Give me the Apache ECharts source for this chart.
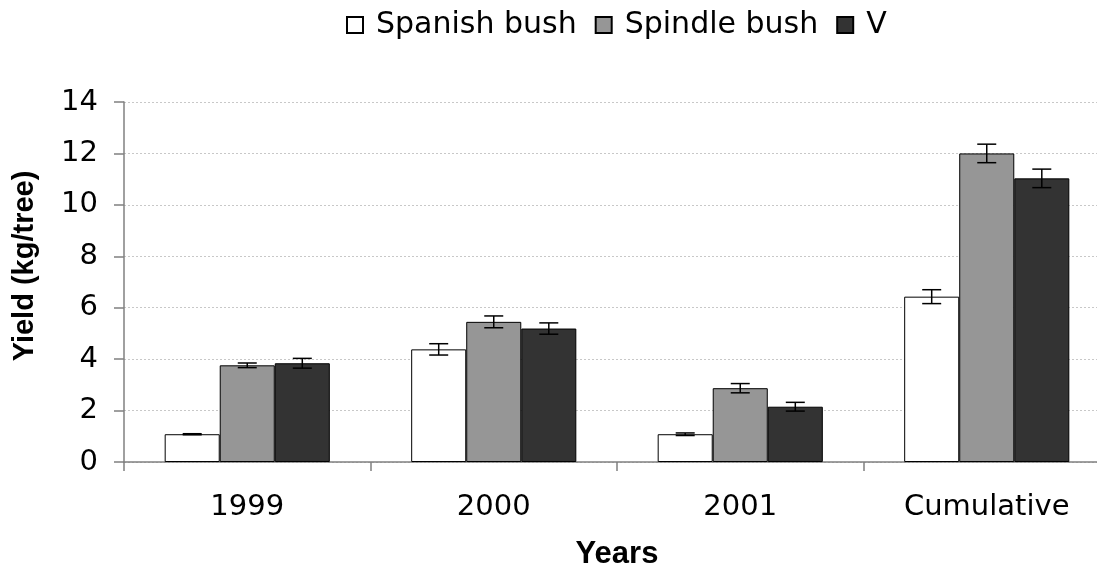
<!DOCTYPE html>
<html>
<head>
<meta charset="utf-8">
<script src="https://cdn.jsdelivr.net/npm/echarts@6/dist/echarts.min.js"></script>
<style>html,body{margin:0;padding:0;background:#fff}#c{width:1097px;height:565px}</style>
</head>
<body>
<div id="c"></div>
<script>
const categories = ['1999', '2000', '2001', 'Cumulative'];
const seriesNames = ['Spanish bush', 'Spindle bush', 'V'];
const spanish = [1.08, 4.38, 1.08, 6.43];
const spindle = [3.76, 5.45, 2.87, 12.0];
const vSystem = [3.84, 5.19, 2.15, 11.03];
const spanishErr = [0.02, 0.22, 0.05, 0.27];
const spindleErr = [0.09, 0.23, 0.18, 0.36];
const vErr = [0.19, 0.22, 0.17, 0.36];
const yTicks = [0, 2, 4, 6, 8, 10, 12, 14];

const colors = ['#ffffff', '#969696', '#333333'];
const values = [spanish, spindle, vSystem];
const errs = [spanishErr, spindleErr, vErr];
const catGap = 0.33;
const FONT = 'DejaVu Sans, sans-serif';
const BFONT = 'Liberation Sans, Arial, sans-serif';

const chart = echarts.init(document.getElementById('c'));

const barSeries = seriesNames.map((n, i) => ({
  name: n,
  type: 'bar',
  data: values[i],
  barGap: '0%',
  barCategoryGap: (catGap * 100) + '%',
  itemStyle: { color: colors[i], borderColor: '#000', borderWidth: 1 },
  emphasis: { disabled: true }
}));

const errSeries = seriesNames.map((n, i) => ({
  type: 'custom',
  name: n + ' err',
  z: 10,
  data: values[i].map((v, k) => [k, v - errs[i][k], v + errs[i][k]]),
  renderItem: function (params, api) {
    const idx = api.value(0);
    const band = api.size([1, 0])[0];
    const bw = band * (1 - catGap) / 3;
    const center = api.coord([idx, 0])[0] + (i - 1) * bw;
    const lo = api.coord([idx, api.value(1)])[1];
    const hi = api.coord([idx, api.value(2)])[1];
    const cap = 9.5;
    const st = { stroke: '#000', lineWidth: 1.5 };
    return {
      type: 'group',
      children: [
        { type: 'line', shape: { x1: center, y1: lo, x2: center, y2: hi }, style: st },
        { type: 'line', shape: { x1: center - cap, y1: hi, x2: center + cap, y2: hi }, style: st },
        { type: 'line', shape: { x1: center - cap, y1: lo, x2: center + cap, y2: lo }, style: st }
      ]
    };
  }
}));

chart.setOption({
  animation: false,
  backgroundColor: '#fff',
  textStyle: { fontFamily: FONT },
  legend: {
    data: seriesNames,
    top: 5,
    left: 341,
    itemWidth: 16,
    itemHeight: 16,
    itemGap: 18,
    icon: 'rect',
    textStyle: { fontSize: 30, color: '#000', fontFamily: FONT, padding: [0, 0, 0, 8] }
  },
  grid: { left: 124, top: 102, bottom: 103, right: -13, outerBoundsMode: 'none', containLabel: false },
  xAxis: {
    type: 'category',
    data: categories,
    name: 'Years',
    nameLocation: 'middle',
    nameGap: 77,
    nameTextStyle: { fontSize: 31, fontWeight: 'bold', color: '#000', fontFamily: BFONT },
    axisLine: { lineStyle: { color: '#808080', width: 1.5 } },
    axisTick: { show: true, length: 9, lineStyle: { color: '#808080', width: 1.5 } },
    axisLabel: { fontSize: 29, color: '#000', margin: 31, fontFamily: FONT },
    splitLine: { show: false }
  },
  yAxis: {
    type: 'value',
    min: 0,
    max: 14,
    interval: 2,
    name: 'Yield (kg/tree)',
    nameLocation: 'middle',
    nameGap: 85,
    nameTextStyle: { fontSize: 29, fontWeight: 'bold', color: '#000', fontFamily: BFONT, padding: [0, 0, 0, 32] },
    axisLine: { show: true, lineStyle: { color: '#808080', width: 1.5 } },
    axisTick: { show: true, length: 10, lineStyle: { color: '#808080', width: 1.5 } },
    axisLabel: { fontSize: 29, color: '#000', margin: 26, fontFamily: FONT,
      formatter: v => yTicks.includes(v) ? String(v) : '' },
    splitLine: { show: true, lineStyle: { color: '#c8c8c8', type: [2, 2], width: 1 } }
  },
  series: barSeries.concat(errSeries)
});
</script>
</body>
</html>
